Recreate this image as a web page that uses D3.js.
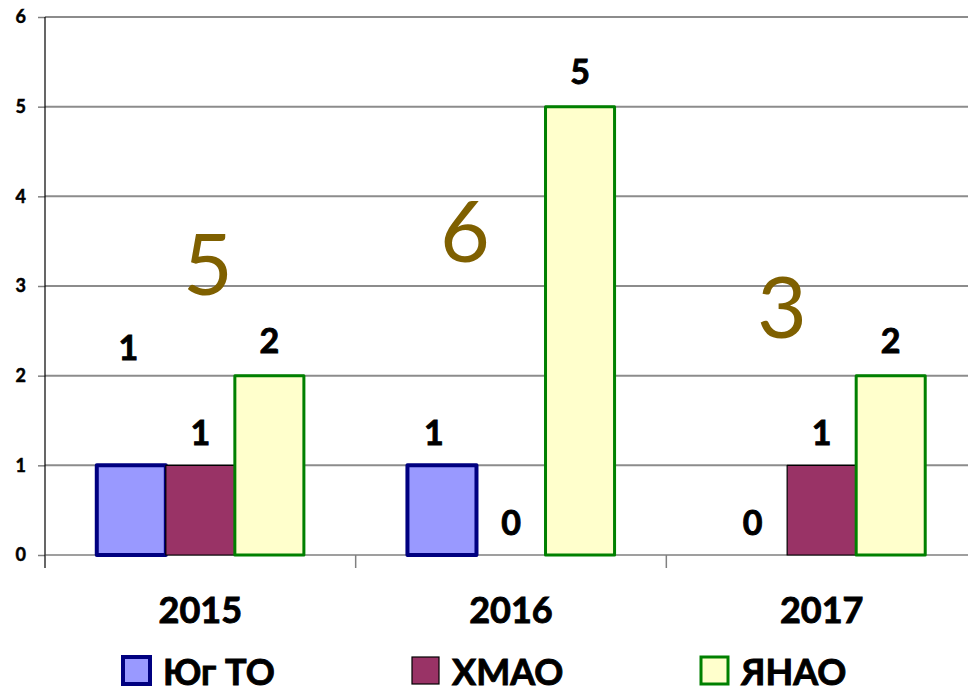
<!DOCTYPE html>
<html>
<head>
<meta charset="utf-8">
<script src="https://cdn.jsdelivr.net/npm/d3@7"></script>
<style>
  body { margin: 0; background: #fff; }
  svg text { font-family: Lato, "Open Sans", sans-serif; }
  .heavy { stroke: #000; stroke-width: 0.9px; }
</style>
</head>
<body>
<div id="chart"></div>
<script>
// data
var years = ["2015", "2016", "2017"];
var seriesNames = ["Юг ТО", "ХМАО", "ЯНАО"];
var yugTO = [1, 1, 0];
var hmao = [1, 0, 1];
var yanao = [2, 5, 2];
var totals = [5, 6, 3];
var yTicks = [0, 1, 2, 3, 4, 5, 6];

var seriesFill = ["#9999ff", "#993366", "#ffffcc"];
var seriesStroke = ["#000080", "#000000", "#008000"];
var seriesStrokeW = [4, 1.2, 3];

var svgWidth = 968;
var svgHeight = 692;

var svg = d3.select("#chart")
  .append("svg")
  .attr("width", svgWidth)
  .attr("height", svgHeight);

// chart area: y axis at 45, plot runs off the right edge a bit like in the original
var x = d3.scaleBand().domain(years).range([45, 977]).paddingInner(0).paddingOuter(0);
var xSub = d3.scaleBand().domain(seriesNames).range([0, x.bandwidth() * 2 / 3]);
var groupShift = x.bandwidth() / 6;
var y = d3.scaleLinear().domain([0, 6]).range([555, 17]);

// gridlines
svg.append("g")
  .selectAll("line")
  .data(yTicks.slice(1))
  .enter().append("line")
  .attr("x1", 45).attr("x2", svgWidth)
  .attr("y1", function(d) { return y(d); })
  .attr("y2", function(d) { return y(d); })
  .attr("stroke", "#8c8c8c")
  .attr("stroke-width", 2);

// y axis
var leftAxis = d3.axisLeft(y).tickValues(yTicks).tickSize(7).tickPadding(12).tickFormat(d3.format("d"));
var yAxisG = svg.append("g").attr("transform", "translate(45,0)").call(leftAxis);
yAxisG.select(".domain").remove();
yAxisG.selectAll(".tick line").attr("stroke", "#808080").attr("stroke-width", 1.5);
yAxisG.selectAll(".tick text")
  .attr("class", "heavy")
  .style("stroke-width", "0.5px")
  .style("font-size", "18px").style("font-weight", "bold").attr("fill", "#000");
svg.append("line")
  .attr("x1", 45).attr("x2", 45).attr("y1", 17).attr("y2", 568)
  .attr("stroke", "#000").attr("stroke-width", 1.2);

// x axis (baseline + ticks between categories)
var bottomAxis = d3.axisBottom(x).tickSize(0).tickPadding(0).tickFormat("");
var xAxisG = svg.append("g").attr("transform", "translate(0," + y(0) + ")").call(bottomAxis);
xAxisG.select(".domain").remove();
svg.append("line")
  .attr("x1", 45).attr("x2", svgWidth).attr("y1", y(0)).attr("y2", y(0))
  .attr("stroke", "#404040").attr("stroke-width", 1.2);
svg.append("g")
  .selectAll("line")
  .data(years.slice(1))
  .enter().append("line")
  .attr("x1", function(d) { return x(d); })
  .attr("x2", function(d) { return x(d); })
  .attr("y1", y(0)).attr("y2", y(0) + 13)
  .attr("stroke", "#808080").attr("stroke-width", 1.5);

// year labels
svg.append("g")
  .selectAll("text")
  .data(years)
  .enter().append("text")
  .attr("class", "heavy")
  .attr("x", function(d) { return x(d) + x.bandwidth() / 2; })
  .attr("y", 623)
  .attr("text-anchor", "middle")
  .style("font-size", "36px").style("font-weight", "bold")
  .text(function(d) { return d; });

// build the bar table
var allSeries = [yugTO, hmao, yanao];
var bars = [];
years.forEach(function(yr, i) {
  seriesNames.forEach(function(s, j) {
    bars.push({ year: yr, series: s, idx: j, value: allSeries[j][i] });
  });
});

function barX(d) { return x(d.year) + groupShift + xSub(d.series); }

svg.append("g")
  .selectAll("rect")
  .data(bars.filter(function(d) { return d.value > 0; }))
  .enter().append("rect")
  .attr("x", barX)
  .attr("y", function(d) { return y(d.value); })
  .attr("width", xSub.bandwidth())
  .attr("height", function(d) { return y(0) - y(d.value); })
  .attr("fill", function(d) { return seriesFill[d.idx]; })
  .attr("stroke", function(d) { return seriesStroke[d.idx]; })
  .attr("stroke-width", function(d) { return seriesStrokeW[d.idx]; })
  .attr("stroke-linejoin", "round");

// value labels, one was moved by hand in the original
var labelNudge = { "2015|Юг ТО": [-3, -85], "2016|Юг ТО": [-8, 0] };
svg.append("g")
  .selectAll("text")
  .data(bars)
  .enter().append("text")
  .attr("class", "heavy")
  .attr("x", function(d) {
    var n = labelNudge[d.year + "|" + d.series];
    return barX(d) + xSub.bandwidth() / 2 + (n ? n[0] : 0);
  })
  .attr("y", function(d) {
    var n = labelNudge[d.year + "|" + d.series];
    var off = d.idx == 2 ? 23 : 20;
    return y(d.value) - off + (n ? n[1] : 0);
  })
  .attr("text-anchor", "middle")
  .style("font-size", "34px").style("font-weight", "bold")
  .text(function(d) { return d.value; });

// totals floating over each year
var totalPos = [[208, 295], [465, 262], [782, 338]];
svg.append("g")
  .selectAll("text")
  .data(totals)
  .enter().append("text")
  .attr("x", function(d, i) { return totalPos[i][0]; })
  .attr("y", function(d, i) { return totalPos[i][1]; })
  .attr("text-anchor", "middle")
  .attr("fill", "#7f6000")
  .style("font-size", "86px")
  .text(function(d) { return d; });

// legend
var legendX = [123, 412, 701];
var legend = svg.append("g")
  .selectAll("g")
  .data(seriesNames)
  .enter().append("g")
  .attr("transform", function(d, i) { return "translate(" + legendX[i] + ",657)"; });
legend.append("rect")
  .attr("width", 27).attr("height", 27)
  .attr("fill", function(d, i) { return seriesFill[i]; })
  .attr("stroke", function(d, i) { return seriesStroke[i]; })
  .attr("stroke-width", function(d, i) { return seriesStrokeW[i]; });
legend.append("text")
  .attr("class", "heavy")
  .attr("x", 40).attr("y", 28)
  .style("font-size", "36px").style("font-weight", "bold")
  .text(function(d) { return d; });
</script>
</body>
</html>
